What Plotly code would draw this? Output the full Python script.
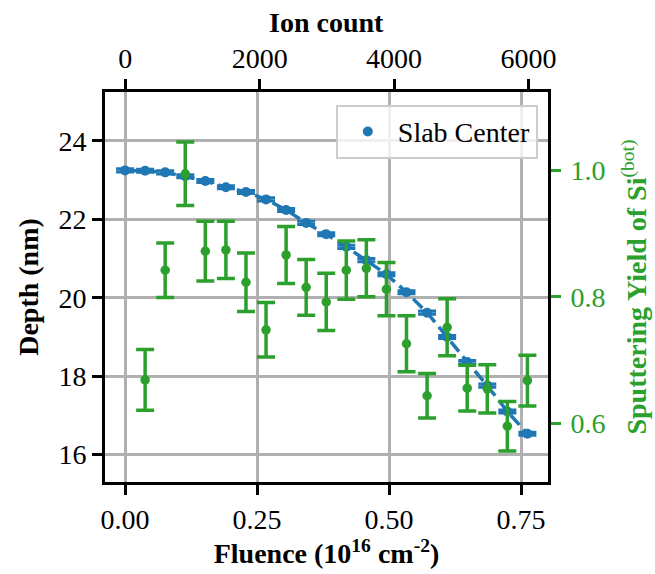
import plotly.graph_objects as go

# ---- data ----
fluence = [0.000, 0.038, 0.076, 0.114, 0.152, 0.191, 0.229, 0.267, 0.305, 0.343,
           0.381, 0.419, 0.457, 0.495, 0.533, 0.572, 0.610, 0.648, 0.686, 0.724, 0.762]
depth = [23.25, 23.24, 23.20, 23.10, 22.98, 22.82, 22.70, 22.51, 22.24, 21.91,
         21.62, 21.30, 20.96, 20.60, 20.14, 19.62, 19.00, 18.36, 17.76, 17.10, 16.53]
depth_err = [0.04] * 21

yield_fluence = fluence[1:]
yield_vals = [0.669, 0.842, 0.994, 0.872, 0.874, 0.823, 0.748, 0.866, 0.815, 0.792,
              0.842, 0.845, 0.812, 0.726, 0.644, 0.752, 0.656, 0.655, 0.596, 0.668]
yield_err = [0.048, 0.043, 0.050, 0.047, 0.045, 0.046, 0.043, 0.045, 0.044, 0.045,
             0.046, 0.045, 0.042, 0.044, 0.035, 0.045, 0.036, 0.038, 0.039, 0.040]

fluence_ticks = [0.0, 0.25, 0.5, 0.75]
fluence_ticktext = ["0.00", "0.25", "0.50", "0.75"]
ion_ticks = [0, 2000, 4000, 6000]
depth_ticks = [16, 18, 20, 22, 24]
yield_ticks = [0.6, 0.8, 1.0]
yield_ticktext = ["0.6", "0.8", "1.0"]

BLUE = "#1f77b4"
GREEN = "#2ca02c"
FONT = "Liberation Serif"
FS = 28

fig = go.Figure()

# dashed connecting line (no legend)
fig.add_trace(go.Scatter(
    x=fluence, y=depth, mode="lines",
    line=dict(color=BLUE, width=3.5, dash="13px,6px"),
    showlegend=False, hoverinfo="skip", xaxis="x", yaxis="y"))

# slab center markers with error bars
fig.add_trace(go.Scatter(
    x=fluence, y=depth, mode="markers", name="Slab Center",
    marker=dict(color=BLUE, size=10),
    error_y=dict(type="data", array=depth_err, visible=True,
                 color=BLUE, thickness=3, width=9),
    xaxis="x", yaxis="y"))

# invisible helper trace so top axis is bound
fig.add_trace(go.Scatter(
    x=ion_ticks, y=[None] * len(ion_ticks), mode="markers",
    marker=dict(opacity=0), showlegend=False, hoverinfo="skip",
    xaxis="x2", yaxis="y"))

# sputtering yield on right axis
fig.add_trace(go.Scatter(
    x=yield_fluence, y=yield_vals, mode="markers",
    marker=dict(color=GREEN, size=9.5),
    error_y=dict(type="data", array=yield_err, visible=True,
                 color=GREEN, thickness=3.5, width=9),
    showlegend=False, xaxis="x", yaxis="y2"))

axis_common = dict(showline=True, linecolor="black", linewidth=3,
                   ticks="outside", ticklen=10, tickwidth=3, tickcolor="black",
                   zeroline=False, automargin=False)

fig.update_layout(
    template="none",
    width=655, height=574,
    margin=dict(l=105, r=107, t=92, b=92, autoexpand=False),
    paper_bgcolor="white", plot_bgcolor="white",
    font=dict(family=FONT, size=FS, color="black"),
    xaxis=dict(
        range=[-0.038, 0.801], tickvals=fluence_ticks, ticktext=fluence_ticktext,
        showgrid=True, gridcolor="#b0b0b0", gridwidth=2.5,
        title=dict(text="<b>Fluence (10<sup>16</sup> cm<sup>-2</sup>)</b>",
                   font=dict(size=FS), standoff=10),
        **axis_common),
    xaxis2=dict(
        overlaying="x", side="top", anchor="y",
        range=[-302, 6290], tickvals=ion_ticks,
        showgrid=False,
        **axis_common),
    yaxis=dict(
        range=[15.3, 25.25], tickvals=depth_ticks,
        showgrid=True, gridcolor="#b0b0b0", gridwidth=2.5,
        title=dict(text="<b>Depth (nm)</b>", font=dict(size=FS), standoff=12),
        **axis_common),
    yaxis2=dict(
        overlaying="y", side="right", anchor="x",
        range=[0.508, 1.123], tickvals=yield_ticks, ticktext=yield_ticktext,
        showgrid=False, showline=True, linecolor="black", linewidth=3,
        ticks="outside", ticklen=10, tickwidth=3, tickcolor=GREEN,
        ticklabelstandoff=4,
        tickfont=dict(color=GREEN, size=FS), zeroline=False, automargin=False,
        title=dict(text="<b>Sputtering Yield of Si</b><sup>(bot)</sup>",
                   font=dict(color=GREEN, size=FS), standoff=22)),
    legend=dict(
        x=0.977, xanchor="right", y=0.967, yanchor="top",
        bgcolor="rgba(255,255,255,0.8)", bordercolor="#cccccc", borderwidth=2,
        itemwidth=50, font=dict(size=FS)),
    annotations=[dict(
        text="<b>Ion count</b>", xref="paper", yref="paper",
        x=0.5, y=1.177, xanchor="center", yanchor="middle",
        showarrow=False, font=dict(size=FS, family=FONT, color="black"))],
)

fig.write_html(
    "out.html",
    config={"displayModeBar": False},
    post_script="document.body.style.margin='0';document.body.style.padding='0';"
                "document.documentElement.style.overflow='hidden';",
)
